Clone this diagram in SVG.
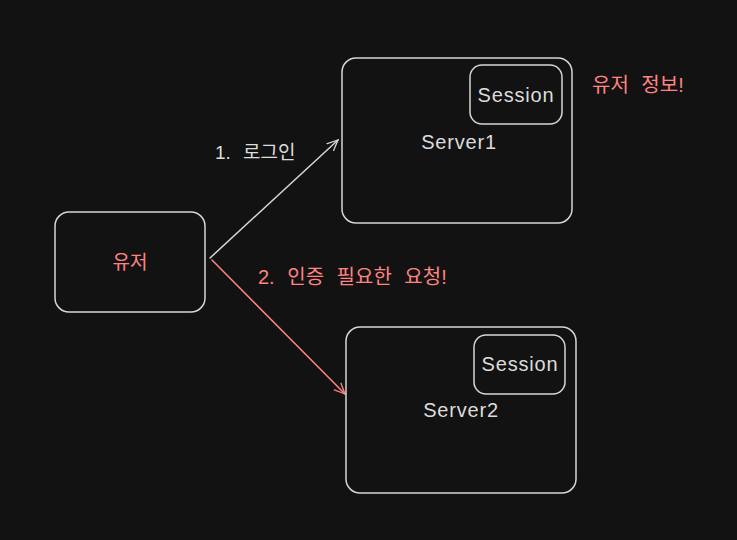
<svg xmlns="http://www.w3.org/2000/svg" width="737" height="540" viewBox="0 0 737 540">
<defs>
<style>
.box{fill:#121212;stroke:#d6d6d6;stroke-width:1.5}
.t{font-family:"Liberation Sans","Noto Sans CJK KR",sans-serif;font-size:19px;fill:#dcdcdc;text-anchor:middle}
.e{font-size:20px;letter-spacing:0.8px}
.r{fill:#ff8383}
.l{text-anchor:start;word-spacing:7px}
.big{font-size:20px}
.c{fill:none;stroke-width:1.5;stroke-linecap:round}
</style>
<marker id="aw" viewBox="0 0 12 12" refX="11" refY="6" markerWidth="12" markerHeight="12" markerUnits="userSpaceOnUse" orient="auto"><path d="M0,1 L11,6 L0,11" fill="none" stroke="#d6d6d6" stroke-width="1.3"/></marker>
<marker id="ar" viewBox="0 0 12 12" refX="11" refY="6" markerWidth="12" markerHeight="12" markerUnits="userSpaceOnUse" orient="auto"><path d="M0,1 L11,6 L0,11" fill="none" stroke="#ff8383" stroke-width="1.3"/></marker>
<marker id="as" viewBox="0 0 6 6" refX="5" refY="3" markerWidth="4" markerHeight="4" markerUnits="userSpaceOnUse" orient="auto"><path d="M0,0 L5,3 L0,6" fill="none" stroke="#d6d6d6" stroke-width="1"/></marker>
</defs>
<rect width="737" height="540" fill="#121212"/>
<g id="connectors">
<path class="c" d="M210,258 L338,140" stroke="#d6d6d6" marker-end="url(#aw)"/>
<path class="c" d="M212,260 L345,394" stroke="#ff8383" marker-end="url(#ar)"/>
<path d="M462,101 L469,102" stroke="#d6d6d6" stroke-width="1" marker-end="url(#as)"/>
<path d="M465,371 L472,372" stroke="#d6d6d6" stroke-width="1" marker-end="url(#as)"/>
</g>
<g id="user">
<rect class="box" x="55" y="212" width="150" height="100" rx="14"/>
<text class="t r" x="130" y="269">유저</text>
</g>
<g id="server1">
<rect class="box" x="342" y="58" width="230" height="165" rx="14"/>
<text class="t e" x="459" y="149">Server1</text>
</g>
<g id="session1">
<rect class="box" x="470" y="65" width="92" height="59" rx="12"/>
<text class="t e" x="516" y="102">Session</text>
</g>
<g id="server2">
<rect class="box" x="346" y="327" width="230" height="166" rx="14"/>
<text class="t e" x="461" y="417">Server2</text>
</g>
<g id="session2">
<rect class="box" x="474" y="335" width="91" height="59" rx="12"/>
<text class="t e" x="520" y="371">Session</text>
</g>
<g id="labels">
<text class="t l" x="215" y="159">1. 로그인</text>
<text class="t r l big" x="258" y="284">2. 인증 필요한 요청!</text>
<text class="t r l big" x="592" y="92">유저 정보!</text>
</g>
</svg>
